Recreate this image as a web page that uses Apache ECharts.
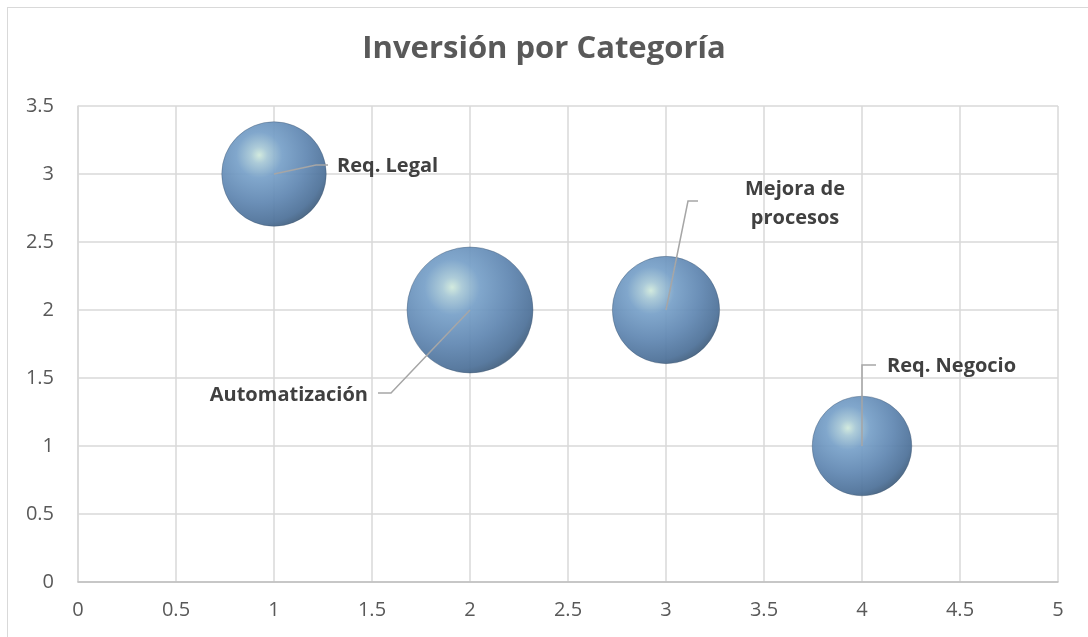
<!DOCTYPE html>
<html>
<head>
<meta charset="utf-8">
<script src="https://cdn.jsdelivr.net/npm/echarts@6/dist/echarts.min.js"></script>
<style>
html,body{margin:0;padding:0;background:#fff;}
#frame{position:absolute;left:7px;top:7px;width:1100px;height:650px;border:1px solid #d9d9d9;box-sizing:border-box;}
#chart{position:absolute;left:0;top:0;width:1088px;height:637px;}
</style>
</head>
<body>
<div id="frame"></div>
<div id="chart"></div>
<script>
// Data
const titleText = 'Inversión por Categoría';
const categories = ['Req. Legal', 'Automatización', 'Mejora de\nprocesos', 'Req. Negocio'];
const xValues = [1, 2, 3, 4];
const yValues = [3, 2, 2, 1];
const bubbleValues = [110, 160, 116, 100];

// Label leader-line offsets (pixels, relative to bubble centre) - layout only
const leader = [
  {bend: [42, -9], end: [54, -9], text: [63, -8], align: 'left'},
  {bend: [-79, 83], end: [-92, 83], text: [-102, 85], align: 'right'},
  {bend: [22, -109], end: [32, -109], text: [129, -106], align: 'center'},
  {bend: [0, -81], end: [14, -81], text: [25, -80], align: 'left'}
];

const maxBubble = Math.max.apply(null, bubbleValues);
const maxDiameter = 126;

const pts = xValues.map((x, i) => [x, yValues[i], bubbleValues[i], i]);

const chart = echarts.init(document.getElementById('chart'), null, {renderer: 'canvas'});
const font = '"Open Sans", sans-serif';

const sphere = {
  type: 'radial', x: 0.36, y: 0.32, r: 0.78,
  colorStops: [
    {offset: 0, color: '#d0e9dc'},
    {offset: 0.1, color: '#a8c8d6'},
    {offset: 0.28, color: '#7aa2c9'},
    {offset: 0.58, color: '#6389b3'},
    {offset: 0.83, color: '#50739a'},
    {offset: 1, color: '#3b546d'}
  ]
};

chart.setOption({
  animation: false,
  backgroundColor: 'transparent',
  title: {
    text: titleText, left: 'center', top: 29,
    textStyle: {fontFamily: font, fontSize: 31, fontWeight: 'bold', color: '#595959'}
  },
  grid: {left: 78, right: 30, top: 106, bottom: 55},
  xAxis: {
    type: 'value', min: 0, max: 5, interval: 0.5,
    axisLine: {show: true, lineStyle: {color: '#bfbfbf', width: 1.5}},
    axisTick: {show: false},
    splitLine: {show: true, lineStyle: {color: '#d9d9d9', width: 1.5}},
    axisLabel: {fontFamily: font, fontSize: 20, color: '#595959', margin: 18}
  },
  yAxis: {
    type: 'value', min: 0, max: 3.5, interval: 0.5,
    axisLine: {show: true, lineStyle: {color: '#d9d9d9', width: 1.5}},
    axisTick: {show: false},
    splitLine: {show: true, lineStyle: {color: '#d9d9d9', width: 1.5}},
    axisLabel: {fontFamily: font, fontSize: 20, color: '#595959', margin: 24}
  },
  series: [
    {
      type: 'scatter',
      data: pts,
      symbol: 'circle',
      symbolSize: v => maxDiameter * Math.sqrt(v[2] / maxBubble),
      itemStyle: {color: sphere, opacity: 0.95, borderColor: 'rgba(60,85,110,0.5)', borderWidth: 0.8},
      z: 2
    },
    {
      type: 'custom',
      data: pts,
      z: 5,
      renderItem: function (params, api) {
        const c = api.coord([api.value(0), api.value(1)]);
        const i = api.value(3);
        const L = leader[i];
        return {
          type: 'group',
          children: [
            {
              type: 'polyline',
              shape: {points: [c, [c[0] + L.bend[0], c[1] + L.bend[1]], [c[0] + L.end[0], c[1] + L.end[1]]]},
              style: {stroke: '#a6a6a6', lineWidth: 1.5, fill: null}
            },
            {
              type: 'text',
              x: c[0] + L.text[0], y: c[1] + L.text[1],
              style: {
                text: categories[i], textAlign: L.align, textVerticalAlign: 'middle',
                font: 'bold 20px ' + font, fill: '#404040', lineHeight: 29
              }
            }
          ]
        };
      }
    }
  ]
});
</script>
</body>
</html>
